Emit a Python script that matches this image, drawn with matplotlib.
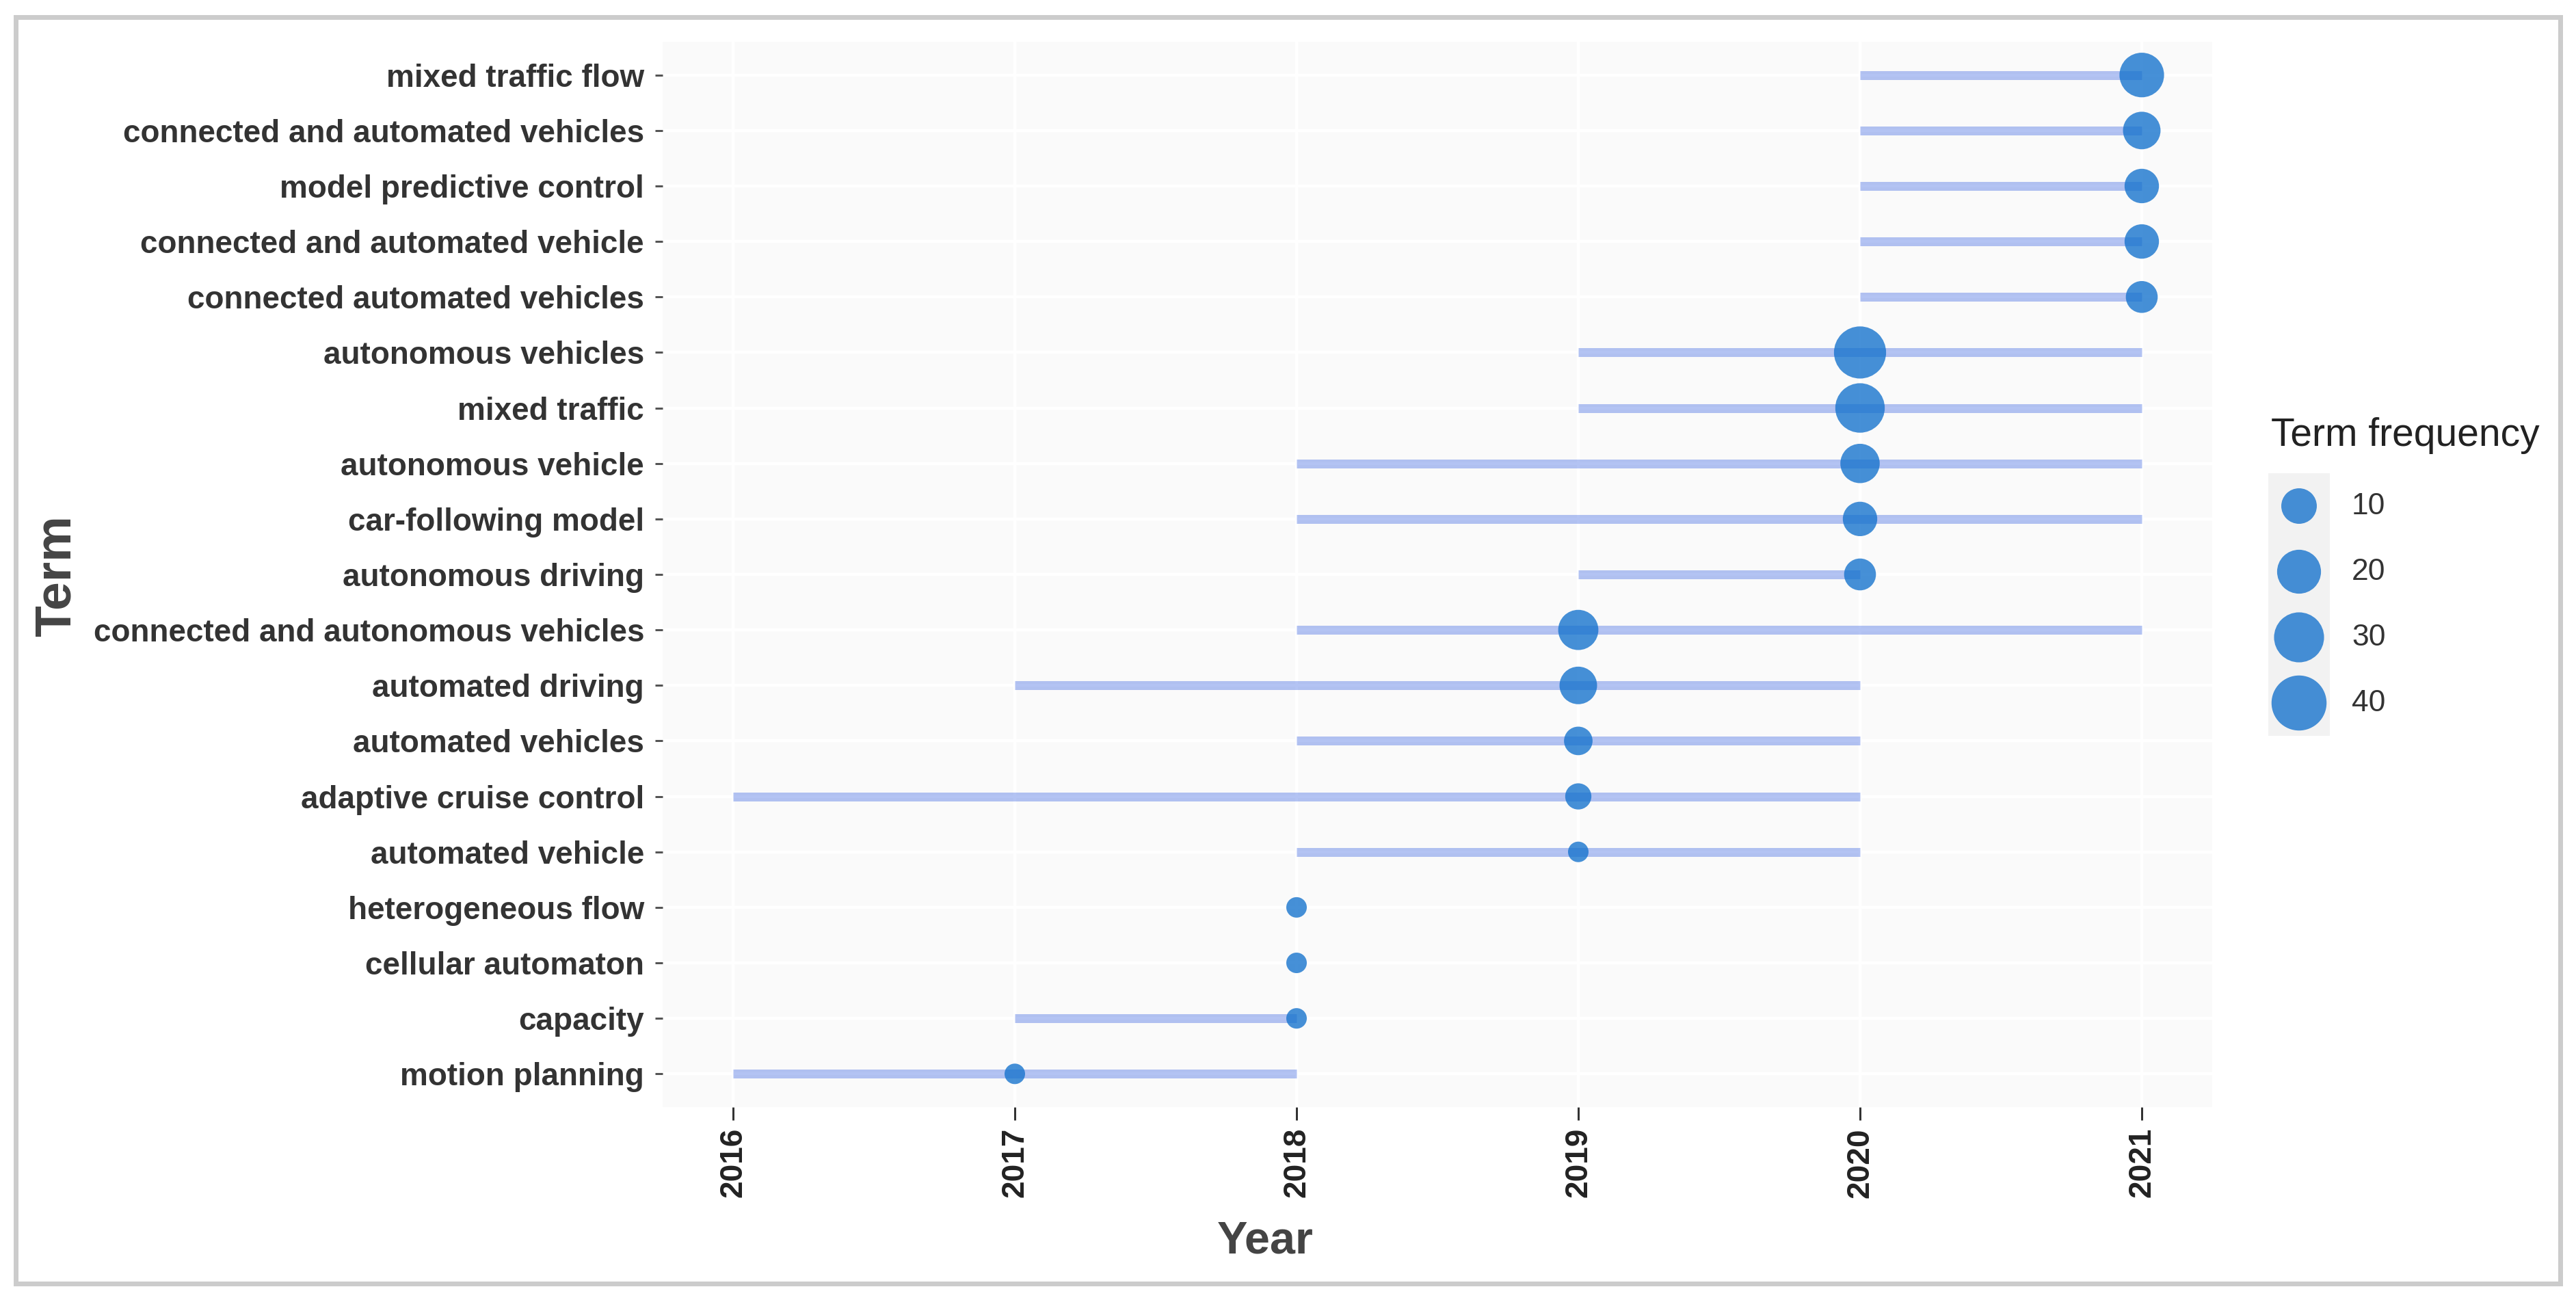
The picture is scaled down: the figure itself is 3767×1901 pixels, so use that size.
import matplotlib
matplotlib.use("Agg")
import matplotlib.pyplot as plt
import numpy as np
from matplotlib.patches import Rectangle

# ---------------- data ----------------
terms = [
    "mixed traffic flow",
    "connected and automated vehicles",
    "model predictive control",
    "connected and automated vehicle",
    "connected automated vehicles",
    "autonomous vehicles",
    "mixed traffic",
    "autonomous vehicle",
    "car-following model",
    "autonomous driving",
    "connected and autonomous vehicles",
    "automated driving",
    "automated vehicles",
    "adaptive cruise control",
    "automated vehicle",
    "heterogeneous flow",
    "cellular automaton",
    "capacity",
    "motion planning",
]
year_start = [2020, 2020, 2020, 2020, 2020, 2019, 2019, 2018, 2018, 2019,
              2018, 2017, 2018, 2016, 2018, 2018, 2018, 2017, 2016]
year_end = [2021, 2021, 2021, 2021, 2021, 2021, 2021, 2021, 2021, 2020,
            2021, 2020, 2020, 2020, 2020, 2018, 2018, 2018, 2018]
year_peak = [2021, 2021, 2021, 2021, 2021, 2020, 2020, 2020, 2020, 2020,
             2019, 2019, 2019, 2019, 2019, 2018, 2018, 2018, 2017]
freq = [21, 12, 9, 9, 7, 34, 29, 14, 9, 7, 15, 12, 5, 4, 3, 3, 3, 3, 3]
legend_values = [10, 20, 30, 40]
year_ticks = [2016, 2017, 2018, 2019, 2020, 2021]

# ---------------- setup ----------------
W, H, DPI = 3767, 1901, 200
plt.rcParams["font.family"] = ["Liberation Sans", "DejaVu Sans"]


def px(v):
    """pixels -> points"""
    return v * 72.0 / DPI


vmin = min(freq)


def marker_area(v):
    d = 30 + 8.3 * np.sqrt(np.maximum(np.asarray(v, float) - vmin, 0))
    return px(d) ** 2


fig = plt.figure(figsize=(W / DPI, H / DPI), dpi=DPI)
fig.patch.set_facecolor("white")

# outer grey frame
fig.patches.append(Rectangle((23 / W, 1 - 1877 / H), (3744 - 23) / W, (1877 - 25) / H,
                             transform=fig.transFigure, fill=False,
                             edgecolor="#CCCCCC", lw=px(7), zorder=0))

# ---------------- main panel ----------------
ax = fig.add_axes([969 / W, 1 - 1619 / H, (3235 - 969) / W, (1619 - 61) / H])
ax.set_facecolor("#FAFAFA")
n = len(terms)
ypos = np.arange(n)[::-1]

ax.hlines(ypos, year_start, year_end, color="#4169E1", alpha=0.4,
          lw=px(13), zorder=2, capstyle="butt")
ax.scatter(year_peak, ypos, s=marker_area(freq), color="#1874CD", alpha=0.8,
           edgecolors="none", zorder=3)

ax.set_xlim(2015.75, 2021.25)
ax.set_ylim(-0.6, n - 1 + 0.6)
ax.set_xticks(year_ticks)
ax.set_xticklabels([str(t) for t in year_ticks], rotation=90,
                   fontsize=16.5, fontweight="bold", color="#222222")
ax.set_yticks(ypos)
ax.set_yticklabels(terms, fontsize=16.5, fontweight="bold", color="#333333")
ax.grid(True, color="white", lw=1.6, zorder=0)
ax.set_axisbelow(True)
for sp in ax.spines.values():
    sp.set_visible(False)
ax.tick_params(axis="x", length=px(19), width=px(3), color="#333333", pad=px(11))
ax.tick_params(axis="y", length=px(11), width=px(3), color="#555555", pad=px(16))

fig.text(1850 / W, 1 - 1815 / H, "Year", ha="center", va="center",
         fontsize=24, fontweight="bold", color="#444444")
fig.text(83 / W, 1 - 842 / H, "Term", ha="center", va="center", rotation=90,
         fontsize=27, fontweight="bold", color="#444444")

# ---------------- size legend ----------------
fig.text(3321 / W, 1 - 637 / H, "Term frequency", ha="left", va="center",
         fontsize=20.5, color="#222222")
lax = fig.add_axes([3317 / W, 1 - 1076 / H, (3407 - 3317) / W, (1076 - 692) / H])
lax.set_facecolor("#F2F2F2")
ly = np.arange(len(legend_values))
lax.scatter([0.5] * len(legend_values), ly, s=marker_area(legend_values),
            color="#1874CD", alpha=0.8, edgecolors="none")
lax.set_xlim(0, 1)
lax.set_ylim(len(legend_values) - 0.5, -0.5)
lax.set_xticks([])
lax.set_yticks([])
for sp in lax.spines.values():
    sp.set_visible(False)
for v, yy in zip(legend_values, ly):
    lax.text((3439 - 3317) / 90.0, yy, str(v), ha="left", va="center",
             fontsize=16, color="#333333", clip_on=False)

fig.savefig("out.png", dpi=DPI, facecolor="white")
